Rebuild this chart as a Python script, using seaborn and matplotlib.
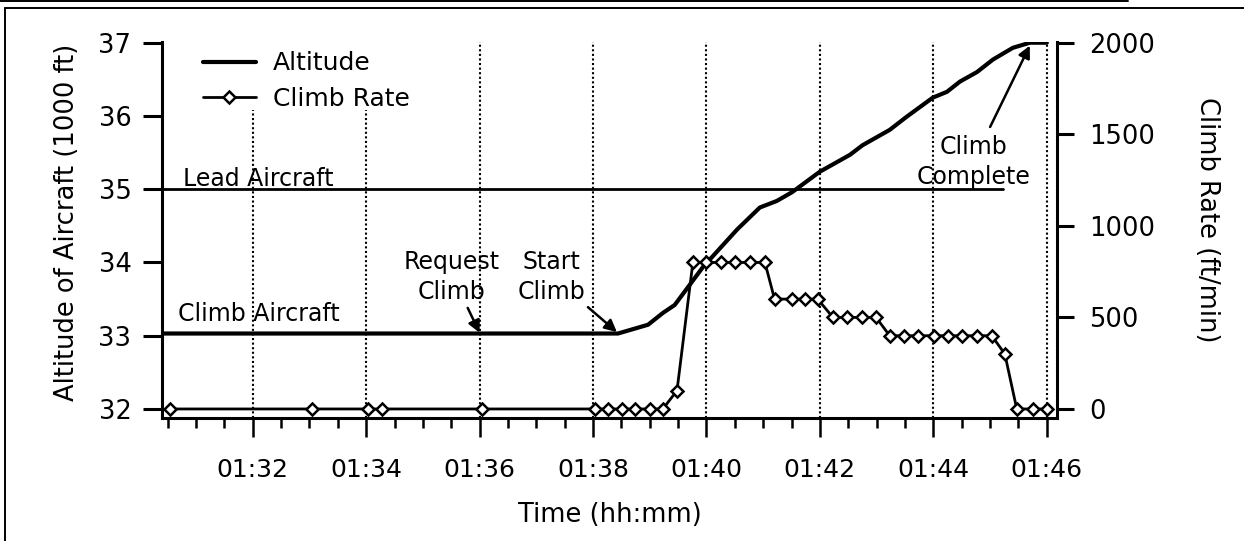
import matplotlib
matplotlib.use("Agg")
import matplotlib.pyplot as plt
import seaborn as sns
from matplotlib.lines import Line2D

# ---------------- data (minutes after 01:00) ----------------
alt_time = [30.4, 38.44, 38.97, 39.23, 39.44, 39.7, 39.94, 40.54, 40.94, 41.24,
            41.51, 42.0, 42.53, 42.75, 43.23, 43.53, 43.99, 44.24, 44.47, 44.77,
            45.05, 45.4, 45.7, 46.0]
alt_kft = [33.03, 33.03, 33.15, 33.31, 33.42, 33.69, 33.94, 34.45, 34.75, 34.84,
           34.96, 35.24, 35.47, 35.6, 35.81, 35.99, 36.25, 36.33, 36.47, 36.6,
           36.77, 36.93, 37.0, 37.0]

rate_time = [30.55, 33.04, 34.03, 34.28, 36.04, 38.03, 38.26, 38.51, 38.74, 39.0,
             39.23, 39.48, 39.76, 40.0, 40.25, 40.5, 40.77, 41.03, 41.2, 41.5,
             41.74, 41.96, 42.23, 42.48, 42.74, 42.99, 43.23, 43.48, 43.73, 44.01,
             44.26, 44.5, 44.77, 45.03, 45.26, 45.47, 45.76, 46.0]
rate_fpm = [0, 0, 0, 0, 0, 0, 0, 0, 0, 0,
            0, 100, 800, 800, 800, 800, 800, 800, 600, 600,
            600, 600, 500, 500, 500, 500, 400, 400, 400, 400,
            400, 400, 400, 400, 300, 0, 0, 0]

lead_time = [30.4, 45.23]
lead_kft = [35.0, 35.0]

grid_minutes = [32, 34, 36, 38, 40, 42, 44, 46]
x_tick_labels = ["01:32", "01:34", "01:36", "01:38", "01:40", "01:42", "01:44", "01:46"]
minor_minutes = [30.5, 31, 31.5, 32.5, 33, 33.5, 34.5, 35, 35.5, 36.5, 37, 37.5,
                 38.5, 39, 39.5, 40.5, 41, 41.5, 42.5, 43, 43.5, 44.5, 45, 45.5]
left_ticks = [32, 33, 34, 35, 36, 37]
right_ticks = [0, 500, 1000, 1500, 2000]

# ---------------- style ----------------
sns.set_style("ticks")
plt.rcParams["font.family"] = ["DejaVu Sans"]
plt.rcParams["axes.linewidth"] = 2.2
for key in ("text.color", "axes.labelcolor", "xtick.color", "ytick.color",
            "axes.edgecolor"):
    plt.rcParams[key] = "black"

fig = plt.figure(figsize=(12.44, 5.41), dpi=100)
ax = fig.add_axes([0.1302, 0.2274, 0.7195, 0.695])
ax2 = ax.twinx()

xlim = (30.4, 46.18)
ylim = (31.877, 37.01)
ax.set_xlim(*xlim)
ax.set_ylim(*ylim)
ax2.set_ylim((ylim[0] - 32) * 400, (ylim[1] - 32) * 400)

# dotted vertical grid lines
for m in grid_minutes:
    top = 0.82 if m in (32, 34) else 1.0
    ax.axvline(m, ymin=0, ymax=top, color="black", lw=1.5,
               linestyle=(0, (1, 1.2)), zorder=1)

# series
sns.lineplot(x=lead_time, y=lead_kft, ax=ax, color="black", lw=2.0,
             estimator=None, sort=False, zorder=3)
sns.lineplot(x=alt_time, y=alt_kft, ax=ax, color="black", lw=3.0,
             estimator=None, sort=False, zorder=4)
sns.lineplot(x=rate_time, y=rate_fpm, ax=ax2, color="black", lw=2.0,
             marker="D", markersize=6.5, markerfacecolor="white",
             markeredgecolor="black", markeredgewidth=1.8,
             estimator=None, sort=False, zorder=5)

# spines
for a in (ax, ax2):
    a.spines["top"].set_visible(False)
ax.spines["right"].set_visible(False)
ax2.spines["left"].set_visible(False)
ax2.spines["bottom"].set_visible(False)
ax2.spines["right"].set_linewidth(2.2)

# ticks
ax.set_xticks(grid_minutes)
ax.set_xticklabels(x_tick_labels)
ax.set_xticks(minor_minutes, minor=True)
ax.tick_params(axis="x", which="major", direction="out", length=14, width=1.8,
               labelsize=18, pad=15)
ax.tick_params(axis="x", which="minor", direction="out", length=7, width=1.8)
ax.set_yticks(left_ticks)
ax.tick_params(axis="y", direction="out", length=14, width=2.2, labelsize=18.5, pad=8)
ax2.set_yticks(right_ticks)
ax2.tick_params(axis="y", direction="out", length=12, width=2.2, labelsize=18.5, pad=11)
ax2.set_zorder(ax.get_zorder() + 1)
ax2.patch.set_visible(False)

# axis labels
ax.set_xlabel("Time (hh:mm)", fontsize=18.5, va="center")
ax.xaxis.set_label_coords(0.5006, -0.258)
ax.set_ylabel("Altitude of Aircraft (1000 ft)", fontsize=18.5, va="center")
ax.yaxis.set_label_coords(-0.106, 0.52)
ax2.set_ylabel("Climb Rate (ft/min)", fontsize=18.5, rotation=270, va="center")
ax2.yaxis.set_label_coords(1.168, 0.527)

# legend
handles = [Line2D([], [], color="black", lw=3.0),
           Line2D([], [], color="black", lw=2.0, marker="D", markersize=6.5,
                  markerfacecolor="white", markeredgecolor="black", markeredgewidth=1.8)]
ax.legend(handles, ["Altitude", "Climb Rate"], loc="upper left",
          bbox_to_anchor=(0.046, 0.975), frameon=False, fontsize=18,
          handlelength=2.1, handletextpad=0.7, labelspacing=0.45,
          borderpad=0, borderaxespad=0)

# annotations
fs = 17
ls = 1.3
ax.text(30.77, 35.05, "Lead Aircraft", fontsize=fs, ha="left", va="baseline")
ax.text(30.68, 33.20, "Climb Aircraft", fontsize=fs, ha="left", va="baseline")
ax.text(35.51, 33.80, "Request\nClimb", fontsize=fs, ha="center", va="center",
        multialignment="center", linespacing=ls)
ax.text(37.27, 33.80, "Start\nClimb", fontsize=fs, ha="center", va="center",
        multialignment="center", linespacing=ls)
ax.text(44.70, 35.37, "Climb\nComplete", fontsize=fs, ha="center", va="center",
        multialignment="center", linespacing=ls)
arrow = dict(arrowstyle="-|>", color="black", lw=1.8, mutation_scale=18,
             shrinkA=0, shrinkB=0)
ax.annotate("", xy=(36.0, 33.04), xytext=(35.79, 33.38), arrowprops=arrow, zorder=6)
ax.annotate("", xy=(38.42, 33.05), xytext=(37.91, 33.39), arrowprops=arrow, zorder=6)
ax.annotate("", xy=(45.7, 36.96), xytext=(45.0, 35.85), arrowprops=arrow, zorder=6)

# document frame lines (scanned page box)
fig.add_artist(Line2D([5 / 1244, 5 / 1244], [0, 1 - 8 / 541], transform=fig.transFigure,
                      color="black", lw=1.4))
fig.add_artist(Line2D([5 / 1244, 1], [1 - 8 / 541, 1 - 8 / 541], transform=fig.transFigure,
                      color="black", lw=1.4))
fig.add_artist(Line2D([0, 1128 / 1244], [1 - 1 / 541, 1 - 1 / 541], transform=fig.transFigure,
                      color="black", lw=1.4))

fig.savefig("out.png", dpi=100)
